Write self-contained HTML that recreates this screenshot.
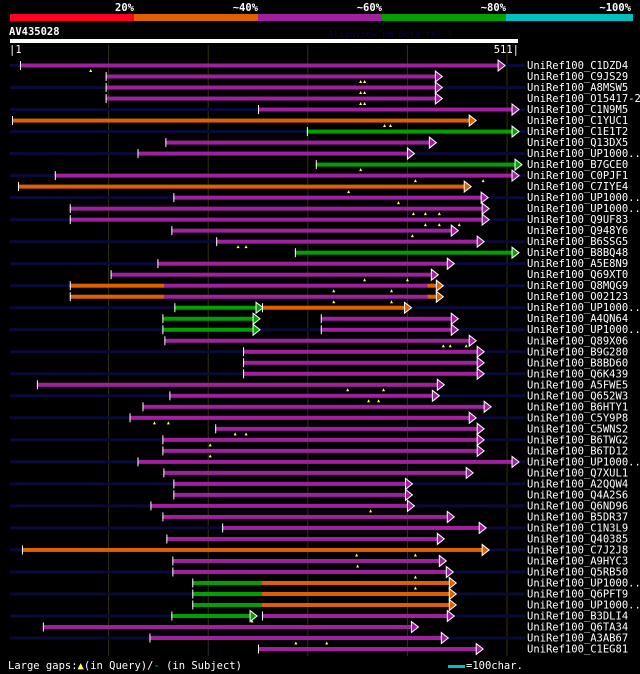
<!DOCTYPE html>
<html><head><meta charset="utf-8"><style>
html,body{margin:0;padding:0;background:#000;width:640px;height:674px;overflow:hidden}
svg{display:block}
text{font-family:"DejaVu Sans Mono","Liberation Mono",monospace;font-size:10.5px;fill:#fff}
</style></head><body>
<svg id="chart" width="640" height="674">
<g>
<rect x="10" y="14" width="124" height="7" fill="#ff0022"/>
<rect x="134" y="14" width="124" height="7" fill="#e06000"/>
<rect x="258" y="14" width="124" height="7" fill="#a020a0"/>
<rect x="382" y="14" width="124" height="7" fill="#00a000"/>
<rect x="506" y="14" width="127" height="7" fill="#00c0c0"/>
<text x="134" y="11" text-anchor="end" font-weight="bold">20%</text>
<text x="258" y="11" text-anchor="end" font-weight="bold">~40%</text>
<text x="382" y="11" text-anchor="end" font-weight="bold">~60%</text>
<text x="506" y="11" text-anchor="end" font-weight="bold">~80%</text>
<text x="631" y="11" text-anchor="end" font-weight="bold">~100%</text>
</g>
<text x="9" y="35" font-weight="bold">AV435028</text>
<text x="328" y="37" style="fill:#080830;font-size:9px">AlignView.pm Beta rel.7</text>
<rect x="10" y="39" width="508" height="4" fill="#fff"/>
<text x="9" y="53">|1</text>
<text x="519" y="53" text-anchor="end">511|</text>
<g id="grid"></g>
<g id="rows"></g>
<text x="8" y="669">Large gaps:<tspan fill="#ffff60">▲</tspan>(in Query)/<tspan fill="#00c0c0">-</tspan> (in Subject)</text>
<rect x="448" y="665" width="17" height="3" fill="#00c0c0"/>
<text x="466" y="669">=100char.</text>
</svg>
<script>
const names=["UniRef100_C1DZD4","UniRef100_C9JS29","UniRef100_A8MSW5","UniRef100_O15417-2","UniRef100_C1N9M5","UniRef100_C1YUC1","UniRef100_C1E1T2","UniRef100_Q13DX5","UniRef100_UP1000..","UniRef100_B7GCE0","UniRef100_C0PJF1","UniRef100_C7IYE4","UniRef100_UP1000..","UniRef100_UP1000..","UniRef100_Q9UF83","UniRef100_Q948Y6","UniRef100_B6SSG5","UniRef100_B8BQ48","UniRef100_A5E8N9","UniRef100_Q69XT0","UniRef100_Q8MQG9","UniRef100_O02123","UniRef100_UP1000..","UniRef100_A4QN64","UniRef100_UP1000..","UniRef100_Q89X06","UniRef100_B9G280","UniRef100_B8BD60","UniRef100_Q6K439","UniRef100_A5FWE5","UniRef100_Q652W3","UniRef100_B6HTY1","UniRef100_C5Y9P8","UniRef100_C5WNS2","UniRef100_B6TWG2","UniRef100_B6TD12","UniRef100_UP1000..","UniRef100_Q7XUL1","UniRef100_A2QQW4","UniRef100_Q4A2S6","UniRef100_Q6ND96","UniRef100_B5DR37","UniRef100_C1N3L9","UniRef100_Q40385","UniRef100_C7J2J8","UniRef100_A9HYC3","UniRef100_Q5RB50","UniRef100_UP1000..","UniRef100_Q6PFT9","UniRef100_UP1000..","UniRef100_B3DLI4","UniRef100_Q6TA34","UniRef100_A3AB67","UniRef100_C1EG81"];
// segments: [queryStart, queryEnd, colorIndex] (0 red,1 orange,2 magenta,3 green)
const segments=[
[[11,491,2]],[[97,428,2]],[[97,428,2]],[[97,428,2]],[[250,505,2]],[[3,462,1]],[[299,505,3]],[[157,422,2]],[[129,400,2]],[[308,508,3]],
[[46,505,2]],[[9,457,1]],[[165,474,2]],[[61,475,2]],[[61,475,2]],[[163,444,2]],[[208,470,2]],[[287,505,3]],[[149,440,2]],[[102,424,2]],
[[61,156,1],[156,420,2],[420,429,1]],[[61,156,1],[156,420,2],[420,429,1]],[[166,248,3],[254,397,1]],[[154,245,3],[313,444,2]],[[154,245,3],[313,444,2]],
[[156,462,2]],[[235,470,2]],[[235,470,2]],[[235,470,2]],[[28,430,2]],[[161,425,2]],[[134,477,2]],[[121,462,2]],[[207,470,2]],[[154,470,2]],[[154,470,2]],
[[129,505,2]],[[155,459,2]],[[165,398,2]],[[165,398,2]],[[142,400,2]],[[154,440,2]],[[214,472,2]],[[158,430,2]],[[13,475,1]],[[164,432,2]],[[164,439,2]],
[[184,254,3],[254,442,1]],[[184,254,3],[254,442,1]],[[184,254,3],[254,442,1]],[[163,242,3],[254,440,2]],[[34,404,2]],[[141,434,2]],[[250,469,2]]];
const gaps=[[82],[353,357],[353,357],[353,357],[],[377,383],[],[],[],[353],[408,476],[341],[391],[406,418,432],[418,432,452],[405],[230,238],[],[],[357,400],[326,384],[326,384],[],[],[],[436,443,459],[],[],[],[340,376],[361,371],[],[146,160],[227,238],[202],[202],[],[],[],[],[363],[],[],[],[349,408],[350],[408],[408],[],[],[244],[],[288,319],[]];
const colors=["#ff0022","#e06000","#a020a0","#00a000"];
const ticks=[100,200,300,400,500];
const NS="http://www.w3.org/2000/svg";
const x=p=>10+(p-1)*508/510;
const y0=65,dy=11.01;
function mk(t,a){const e=document.createElementNS(NS,t);for(const k in a)e.setAttribute(k,a[k]);return e;}
const grid=document.getElementById('grid');
ticks.forEach(t=>{const l=mk('line',{x1:x(t),x2:x(t),y1:45,y2:656,stroke:'#33330a','stroke-width':1});


grid.appendChild(l);});
const rows=document.getElementById('rows');
names.forEach((n,i)=>{
 const y=y0+i*dy;
 const g=mk('g',{});
 
 
 if(i%2===0){const b=mk('rect',{x:10,y:y-1,width:515,height:3,fill:'#0a0a38'});g.appendChild(b);}
 const segs=segments[i];
 segs.forEach((s,j)=>{
  const r=mk('rect',{x:x(s[0]),y:y-1.5,width:x(s[1])-x(s[0]),height:4,fill:colors[s[2]]});
  
  
  g.appendChild(r);
  const tk=mk('line',{x1:x(s[0])+0.5,x2:x(s[0])+0.5,y1:y-4,y2:y+5,stroke:'#fff','stroke-width':1});
  
  
  if(j===0||s[2]!==segs[j-1][2]&&segs[j-1][1]<s[0]-2)g.appendChild(tk);
  if(j===segs.length-1||segs[j+1][0]>s[1]+2){
   const ex=x(s[1]);
   const a=mk('polygon',{points:`${ex},${y-5} ${ex+7},${y+0.5} ${ex},${y+6}`,fill:colors[s[2]],stroke:'#fff','stroke-width':1});
   
   
   g.appendChild(a);
  }
 });
 gaps[i].forEach(gp=>{
  const t=mk('polygon',{points:`${x(gp)-1.5},${y+7} ${x(gp)},${y+4} ${x(gp)+1.5},${y+7}`,fill:'#ffff60'});
  
  
  g.appendChild(t);
 });
 const tx=mk('text',{x:527,y:y+4});
 tx.textContent=n;
 
 
 g.appendChild(tx);
 rows.appendChild(g);
});
</script>
</body></html>
